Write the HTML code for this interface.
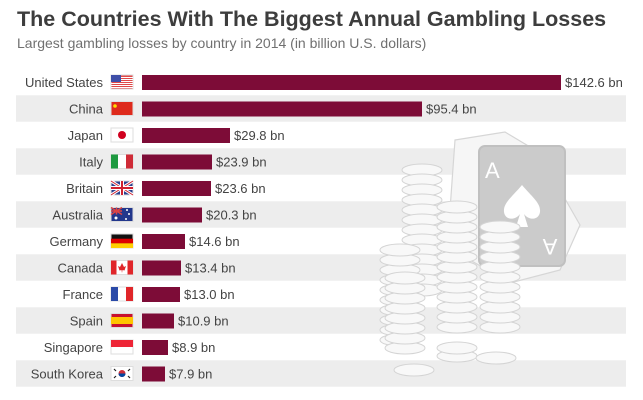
<!DOCTYPE html>
<html><head><meta charset="utf-8"><style>
html,body{margin:0;padding:0;background:#fff;}
svg{display:block;font-family:"Liberation Sans","DejaVu Sans",sans-serif;}
</style></head><body>
<svg width="643" height="400" viewBox="0 0 643 400" xmlns="http://www.w3.org/2000/svg">
<rect width="643" height="400" fill="#fff"/>
<text x="17" y="26" font-size="21.5" font-weight="bold" fill="#3d3d3d">The Countries With The Biggest Annual Gambling Losses</text>
<text x="17" y="48" font-size="14" fill="#707070">Largest gambling losses by country in 2014 (in billion U.S. dollars)</text>
<g fill="#ededed">
<rect x="16" y="95.25" width="610" height="26.5"/>
<rect x="16" y="148.25" width="610" height="26.5"/>
<rect x="16" y="201.25" width="610" height="26.5"/>
<rect x="16" y="254.25" width="610" height="26.5"/>
<rect x="16" y="307.25" width="610" height="26.5"/>
<rect x="16" y="360.25" width="610" height="26.5"/>
</g>
<g stroke="#d6d6d6" stroke-width="1.2">
<path d="M455 140 L505 132 L535 150 L560 190 L580 225 L560 270 L510 283 L470 260 L450 210 Z" fill="#f6f6f6"/>
<rect x="479" y="146" width="86" height="120" rx="6" fill="#cbcbcb" stroke="#c0c0c0" stroke-width="2"/>
<text x="485" y="178" font-size="22" fill="#fff" stroke="none">A</text>
<text x="550" y="255" font-size="22" fill="#fff" stroke="none" text-anchor="middle" transform="rotate(180 550 247)">A</text>
<path d="M522 185 C512 197 503 203 504 212 C505 220 515 221 520 214 L516 227 L528 227 L524 214 C529 221 539 220 540 212 C541 203 532 197 522 185 Z" fill="#fff" stroke="none"/>
</g>
<g fill="#f8f8f8" stroke="#d4d4d4" stroke-width="1">
<ellipse cx="422" cy="170" rx="20" ry="6"/><ellipse cx="422" cy="180" rx="20" ry="6"/><ellipse cx="422" cy="190" rx="20" ry="6"/><ellipse cx="422" cy="200" rx="20" ry="6"/><ellipse cx="422" cy="210" rx="20" ry="6"/><ellipse cx="422" cy="220" rx="20" ry="6"/><ellipse cx="422" cy="230" rx="20" ry="6"/><ellipse cx="422" cy="240" rx="20" ry="6"/><ellipse cx="422" cy="250" rx="20" ry="6"/><ellipse cx="422" cy="260" rx="20" ry="6"/><ellipse cx="422" cy="270" rx="20" ry="6"/><ellipse cx="422" cy="280" rx="20" ry="6"/><ellipse cx="422" cy="290" rx="20" ry="6"/>
<ellipse cx="400" cy="340" rx="20" ry="6"/><ellipse cx="400" cy="330" rx="20" ry="6"/><ellipse cx="400" cy="320" rx="20" ry="6"/><ellipse cx="400" cy="310" rx="20" ry="6"/><ellipse cx="400" cy="300" rx="20" ry="6"/><ellipse cx="400" cy="290" rx="20" ry="6"/><ellipse cx="400" cy="280" rx="20" ry="6"/><ellipse cx="400" cy="270" rx="20" ry="6"/><ellipse cx="400" cy="260" rx="20" ry="6"/><ellipse cx="400" cy="250" rx="20" ry="6"/>
<ellipse cx="457" cy="327" rx="20" ry="6"/><ellipse cx="457" cy="317" rx="20" ry="6"/><ellipse cx="457" cy="307" rx="20" ry="6"/><ellipse cx="457" cy="297" rx="20" ry="6"/><ellipse cx="457" cy="287" rx="20" ry="6"/><ellipse cx="457" cy="277" rx="20" ry="6"/><ellipse cx="457" cy="267" rx="20" ry="6"/><ellipse cx="457" cy="257" rx="20" ry="6"/><ellipse cx="457" cy="247" rx="20" ry="6"/><ellipse cx="457" cy="237" rx="20" ry="6"/><ellipse cx="457" cy="227" rx="20" ry="6"/><ellipse cx="457" cy="217" rx="20" ry="6"/><ellipse cx="457" cy="207" rx="20" ry="6"/>
<ellipse cx="500" cy="327" rx="20" ry="6"/><ellipse cx="500" cy="317" rx="20" ry="6"/><ellipse cx="500" cy="307" rx="20" ry="6"/><ellipse cx="500" cy="297" rx="20" ry="6"/><ellipse cx="500" cy="287" rx="20" ry="6"/><ellipse cx="500" cy="277" rx="20" ry="6"/><ellipse cx="500" cy="267" rx="20" ry="6"/><ellipse cx="500" cy="257" rx="20" ry="6"/><ellipse cx="500" cy="247" rx="20" ry="6"/><ellipse cx="500" cy="237" rx="20" ry="6"/><ellipse cx="500" cy="227" rx="20" ry="6"/>
<ellipse cx="405" cy="348" rx="20" ry="6"/><ellipse cx="405" cy="338" rx="20" ry="6"/><ellipse cx="405" cy="328" rx="20" ry="6"/><ellipse cx="405" cy="318" rx="20" ry="6"/><ellipse cx="405" cy="308" rx="20" ry="6"/><ellipse cx="405" cy="298" rx="20" ry="6"/><ellipse cx="405" cy="288" rx="20" ry="6"/><ellipse cx="405" cy="278" rx="20" ry="6"/>
<ellipse cx="457" cy="356" rx="20" ry="6"/><ellipse cx="457" cy="348" rx="20" ry="6"/>
<ellipse cx="496" cy="358" rx="20" ry="6"/>
<ellipse cx="414" cy="370" rx="20" ry="6"/>
</g>
<g fill="#7d0c37">
<rect x="142" y="75" width="419" height="15"/>
<rect x="142" y="101.5" width="280" height="15"/>
<rect x="142" y="128" width="88" height="15"/>
<rect x="142" y="154.5" width="70" height="15"/>
<rect x="142" y="181" width="69" height="15"/>
<rect x="142" y="207.5" width="60" height="15"/>
<rect x="142" y="234" width="43" height="15"/>
<rect x="142" y="260.5" width="39" height="15"/>
<rect x="142" y="287" width="38" height="15"/>
<rect x="142" y="313.5" width="32" height="15"/>
<rect x="142" y="340" width="26" height="15"/>
<rect x="142" y="366.5" width="23" height="15"/>
</g>
<g font-size="13" fill="#444">
<g text-anchor="end">
<text x="103" y="87">United States</text>
<text x="103" y="113.5">China</text>
<text x="103" y="140">Japan</text>
<text x="103" y="166.5">Italy</text>
<text x="103" y="193">Britain</text>
<text x="103" y="219.5">Australia</text>
<text x="103" y="246">Germany</text>
<text x="103" y="272.5">Canada</text>
<text x="103" y="299">France</text>
<text x="103" y="325.5">Spain</text>
<text x="103" y="352">Singapore</text>
<text x="103" y="378.5">South Korea</text>
</g>
<text x="565" y="87">$142.6 bn</text>
<text x="426" y="113.5">$95.4 bn</text>
<text x="234" y="140">$29.8 bn</text>
<text x="216" y="166.5">$23.9 bn</text>
<text x="215" y="193">$23.6 bn</text>
<text x="206" y="219.5">$20.3 bn</text>
<text x="189" y="246">$14.6 bn</text>
<text x="185" y="272.5">$13.4 bn</text>
<text x="184" y="299">$13.0 bn</text>
<text x="178" y="325.5">$10.9 bn</text>
<text x="172" y="352">$8.9 bn</text>
<text x="169" y="378.5">$7.9 bn</text>
</g>
<g stroke="#ddd" stroke-width="1">
<rect x="111" y="75" width="22" height="14" fill="#e04848"/>
<g stroke="none" fill="#fff"><rect x="111" y="77" width="22" height="1"/><rect x="111" y="79" width="22" height="1"/><rect x="111" y="81" width="22" height="1"/><rect x="111" y="83" width="22" height="1"/><rect x="111" y="85" width="22" height="1"/><rect x="111" y="87" width="22" height="1"/></g>
<rect x="111" y="75" width="10" height="7" fill="#3f4fa8" stroke="none"/>
<rect x="111" y="101.5" width="22" height="14" fill="#de2a1c"/>
<circle cx="115" cy="106" r="1.8" fill="#ffde00" stroke="none"/>
<rect x="111" y="128" width="22" height="14" fill="#fff"/>
<circle cx="122" cy="135" r="4" fill="#d0001f" stroke="none"/>
<rect x="111" y="154.5" width="22" height="14" fill="#fff"/>
<rect x="111" y="154.5" width="7" height="14" fill="#1e9a40" stroke="none"/>
<rect x="126" y="154.5" width="7" height="14" fill="#cf2b37" stroke="none"/>
<rect x="111" y="181" width="22" height="14" fill="#2a3f8f"/>
<path d="M111 181 L133 195 M133 181 L111 195" stroke="#fff" stroke-width="3"/>
<path d="M111 181 L133 195 M133 181 L111 195" stroke="#d0202f" stroke-width="1"/>
<path d="M122 181 V195 M111 188 H133" stroke="#fff" stroke-width="4"/>
<path d="M122 181 V195 M111 188 H133" stroke="#d0202f" stroke-width="2"/>
<rect x="111" y="207.5" width="22" height="14" fill="#22378c"/>
<path d="M111 207.5 L122 214.5 M122 207.5 L111 214.5 M116.5 207.5V214.5 M111 211H122" stroke="#d44" stroke-width="1.5"/>
<g fill="#fff" stroke="none"><circle cx="127" cy="210" r="1"/><circle cx="129" cy="214" r="1"/><circle cx="126" cy="219" r="1"/><circle cx="116" cy="218" r="1.5"/></g>
<rect x="111" y="234" width="22" height="14" fill="#111"/>
<rect x="111" y="238.7" width="22" height="4.7" fill="#dd0000" stroke="none"/>
<rect x="111" y="243.3" width="22" height="4.7" fill="#ffce00" stroke="none"/>
<rect x="111" y="260.5" width="22" height="14" fill="#fff"/>
<rect x="111" y="260.5" width="5.5" height="14" fill="#e0262a" stroke="none"/>
<rect x="127.5" y="260.5" width="5.5" height="14" fill="#e0262a" stroke="none"/>
<path d="M122 263 L124 267 L126 266 L124.5 270.5 L122.5 270 L122 273 L121.5 270 L119.5 270.5 L118 266 L120 267 Z" fill="#e0262a" stroke="none"/>
<rect x="111" y="287" width="22" height="14" fill="#fff"/>
<rect x="111" y="287" width="7" height="14" fill="#2a4aa8" stroke="none"/>
<rect x="126" y="287" width="7" height="14" fill="#e0262a" stroke="none"/>
<rect x="111" y="313.5" width="22" height="14" fill="#c8102e"/>
<rect x="111" y="317" width="22" height="7" fill="#ffc400" stroke="none"/>
<rect x="111" y="340" width="22" height="14" fill="#fff"/>
<rect x="111" y="340" width="22" height="7" fill="#ee2536" stroke="none"/>
<rect x="111" y="366.5" width="22" height="14" fill="#fff"/>
<circle cx="122" cy="373.5" r="3.5" fill="#cd2e3a" stroke="none"/>
<path d="M118.5 373.5 A3.5 3.5 0 0 0 125.5 373.5 Z" fill="#0047a0" stroke="none"/>
<g stroke="#222" stroke-width="1.2"><path d="M114 369 l2 2 M130 369 l-2 2 M114 378 l2 -2 M130 378 l-2 -2"/></g>
</g>
</svg>
</body></html>
